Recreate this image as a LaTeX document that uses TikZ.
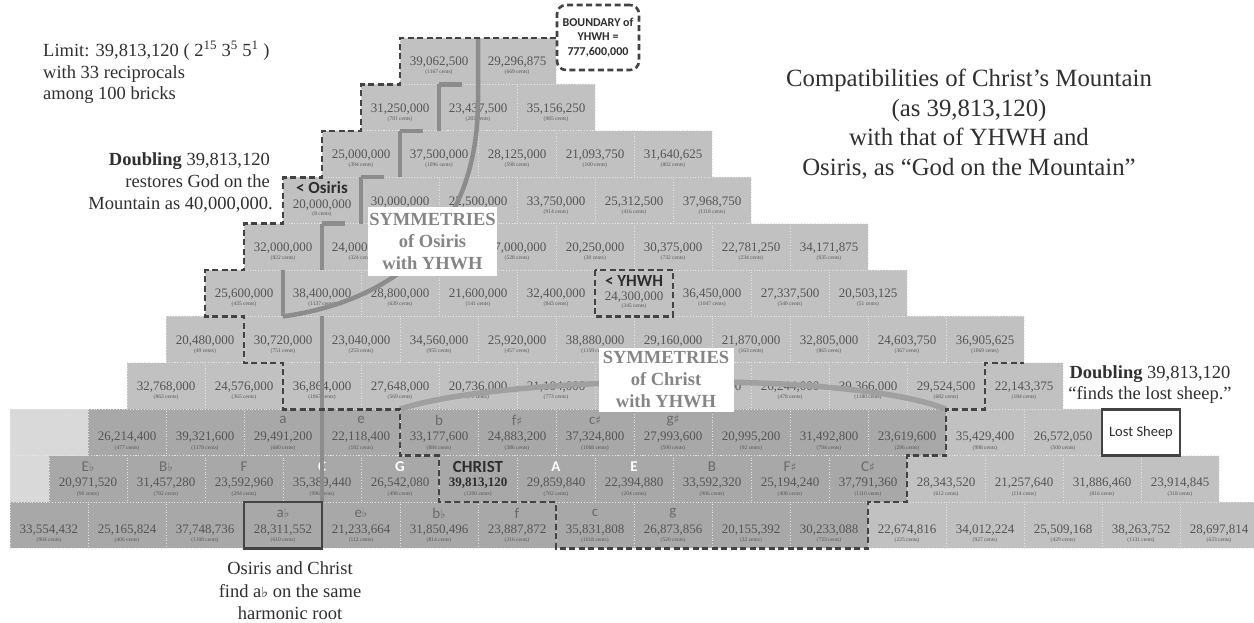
\documentclass[tikz,border=0pt]{standalone}
\usepackage{fontspec}
\setmainfont{Liberation Serif}
\newfontfamily\calib{Carlito}
\newfontfamily\musicsym{DejaVu Sans}[Scale=0.78]
\usetikzlibrary{calc}

\definecolor{brickfill}{HTML}{C1C1C1}
\definecolor{brickdark}{HTML}{A8A8A8}
\definecolor{brickpale}{HTML}{D9D9D9}
\definecolor{brickline}{HTML}{E4E4E4}
\definecolor{numgrey}{HTML}{555555}
\definecolor{notegrey}{HTML}{6A6A6A}
\definecolor{edge}{HTML}{434343}
\definecolor{symgrey}{HTML}{8C8C8C}
\definecolor{symgreylight}{HTML}{A0A0A0}
\definecolor{symtext}{HTML}{858585}
\definecolor{bodytext}{HTML}{303030}
\definecolor{labdark}{HTML}{2E2E2E}

\newcommand\fl{{\musicsym ♭}}
\newcommand\shp{{\musicsym ♯}}

% cents of a brick, measured from 39,813,120 (taken as 1200 cents)
\ExplSyntaxOn
\tl_new:N \l__brick_num_tl
\NewDocumentCommand \centsof { m }
  {
    \tl_set:Nx \l__brick_num_tl {#1}
    \tl_remove_all:Nn \l__brick_num_tl { , }
    \fp_eval:n { round ( 1200 * ln ( \l__brick_num_tl / 19906560 ) / ln ( 2 ) ) }
  }
\ExplSyntaxOff

% bricks whose number or cents lie under a caption box
\newcommand\hidenum[1]{\expandafter\def\csname hidenum#1\endcsname{}}
\newcommand\hidecents[1]{\expandafter\def\csname hidecents#1\endcsname{}}
\hidenum{5-2}\hidecents{5-2}
\hidecents{4-1}\hidecents{4-2}
\hidenum{8-6}\hidecents{8-6}\hidecents{8-7}\hidecents{7-6}

% one brick: row, index in row, number, fill colour
\newcommand\brickat[4]{%
  \pgfmathsetmacro\bx{400-39*(#1-1)+78*#2+39}%
  \pgfmathsetmacro\bt{38+46.4*(#1-1)}%
  \ifnum#1>8\relax \def\ny{28}\def\cy{38.5}\else\def\ny{24.5}\def\cy{34.5}\fi
  \node[brickcell,fill=#4] (b#1-#2) at (\bx,\bt+23.2) {};
  \ifcsname hidenum#1-#2\endcsname\else
    \node[numtxt,bs#1-#2/.try] (n#1-#2) at (\bx,\bt+\ny) {#3};
  \fi
  \ifcsname hidecents#1-#2\endcsname\else
    \node[centtxt,bc#1-#2/.try] (c#1-#2) at (\bx,\bt+\cy) {(\centsof{#3} cents)};
  \fi
}
% a row of bricks; the first #2 bricks are the darker ones
\newcommand\brickrow[3]{%
  \foreach \num [count=\kk from 0] in {#3} {%
    \ifnum\kk<#2\relax \def\bfill{brickdark}\else\def\bfill{brickfill}\fi
    \brickat{#1}{\kk}{\num}{\bfill}%
  }%
}
\newcommand\notelab[4]{%
  \node[notetxt,text=#4] (lab#1-#2) at ($(b#1-#2.north)+(0,11)$) {#3};
}

\begin{document}
\begin{tikzpicture}[x=1pt,y=-1pt,
  brickcell/.style={draw=brickline, dotted, line width=0.8pt, minimum width=78pt,
    minimum height=46.4pt, inner sep=0pt, outer sep=0pt},
  numtxt/.style={font=\fontsize{13}{13}\selectfont, text=numgrey, inner sep=0pt},
  centtxt/.style={font=\fontsize{5.5}{5.5}\selectfont, text=numgrey, inner sep=0pt},
  notetxt/.style={font=\calib\fontsize{15}{15}\selectfont, inner sep=0pt},
  whitenote/.style={font=\calib\bfseries\fontsize{15}{15}\selectfont, inner sep=0pt},
  labtxt/.style={font=\calib\bfseries\fontsize{17}{17}\selectfont, text=labdark, inner sep=0pt},
  bs10-5/.style={font=\bfseries\fontsize{13}{13}\selectfont, text=labdark},
  bs4-0/.style={yshift=-3pt}, bc4-0/.style={yshift=-2pt},
  bs6-5/.style={yshift=-3pt}, bc6-5/.style={yshift=-2pt},
  yhwhline/.style={draw=edge, line width=2.6pt, dash pattern=on 6pt off 3.5pt},
  symline/.style={draw=symgrey, line width=4.5pt},
  christline/.style={draw=symgreylight, line width=5.5pt},
  rootbox/.style={draw=edge, line width=2.4pt},
  textline/.style={font=\fontsize{18.5}{22}\selectfont, text=bodytext, inner sep=0pt},
  titleline/.style={font=\fontsize{24.8}{30}\selectfont, text=bodytext, inner sep=0pt},
  symbox/.style={fill=white, inner sep=0pt, align=center, text=symtext,
    font=\bfseries\fontsize{18.5}{22}\selectfont},
  lostbox/.style={fill=white, draw=edge, line width=2.8pt, minimum width=78pt,
    minimum height=46.4pt, inner sep=0pt, font=\calib\fontsize{14.5}{14.5}\selectfont, text=labdark},
  boundbox/.style={fill=white, yhwhline, rounded corners=9pt, minimum width=82pt,
    minimum height=65pt, inner sep=0pt, align=center, text=labdark,
    font=\calib\bfseries\fontsize{12}{14.5}\selectfont}]
\useasboundingbox (0,0) rectangle (1254,622);
\clip (0,0) rectangle (1254,622);
\fill[white] (0,0) rectangle (1254,622);

% pale filler bricks at the left end of rows 9 and 10
\node[brickcell,fill=brickpale,anchor=north west] (pale9) at (10,409.2) {};
\node[brickcell,fill=brickpale,minimum width=39pt,anchor=north west] (pale10) at (10,455.6) {};

% the mountain of bricks, row by row from the top
\brickrow{1}{0}{{39,062,500},{29,296,875}}
\brickrow{2}{0}{{31,250,000},{23,437,500},{35,156,250}}
\brickrow{3}{0}{{25,000,000},{37,500,000},{28,125,000},{21,093,750},{31,640,625}}
\brickrow{4}{0}{{20,000,000},{30,000,000},{22,500,000},{33,750,000},{25,312,500},{37,968,750}}
\brickrow{5}{0}{{32,000,000},{24,000,000},{36,000,000},{27,000,000},{20,250,000},{30,375,000},{22,781,250},{34,171,875}}
\brickrow{6}{0}{{25,600,000},{38,400,000},{28,800,000},{21,600,000},{32,400,000},{24,300,000},{36,450,000},{27,337,500},{20,503,125}}
\brickrow{7}{0}{{20,480,000},{30,720,000},{23,040,000},{34,560,000},{25,920,000},{38,880,000},{29,160,000},{21,870,000},{32,805,000},{24,603,750},{36,905,625}}
\brickrow{8}{0}{{32,768,000},{24,576,000},{36,864,000},{27,648,000},{20,736,000},{31,104,000},{23,328,000},{34,992,000},{26,244,000},{39,366,000},{29,524,500},{22,143,375}}
\brickrow{9}{11}{{26,214,400},{39,321,600},{29,491,200},{22,118,400},{33,177,600},{24,883,200},{37,324,800},{27,993,600},{20,995,200},{31,492,800},{23,619,600},{35,429,400},{26,572,050}}
\brickrow{10}{11}{{20,971,520},{31,457,280},{23,592,960},{35,389,440},{26,542,080},{39,813,120},{29,859,840},{22,394,880},{33,592,320},{25,194,240},{37,791,360},{28,343,520},{21,257,640},{31,886,460},{23,914,845}}
\brickrow{11}{11}{{33,554,432},{25,165,824},{37,748,736},{28,311,552},{21,233,664},{31,850,496},{23,887,872},{35,831,808},{26,873,856},{20,155,392},{30,233,088},{22,674,816},{34,012,224},{25,509,168},{38,263,752},{28,697,814}}

% note names
\notelab{9}{2}{a}{notegrey}
\notelab{9}{3}{e}{notegrey}
\notelab{9}{4}{b}{notegrey}
\notelab{9}{5}{f\shp}{notegrey}
\notelab{9}{6}{c\shp}{notegrey}
\notelab{9}{7}{g\shp}{notegrey}
\notelab{10}{0}{E\fl}{notegrey}
\notelab{10}{1}{B\fl}{notegrey}
\notelab{10}{2}{F}{notegrey}
\node[whitenote,text=white] (lab10-3) at ($(b10-3.north)+(0,11)$) {C};
\node[whitenote,text=white] (lab10-4) at ($(b10-4.north)+(0,11)$) {G};
\node[whitenote,text=white] (lab10-6) at ($(b10-6.north)+(0,11)$) {A};
\node[whitenote,text=white] (lab10-7) at ($(b10-7.north)+(0,11)$) {E};
\notelab{10}{8}{B}{notegrey}
\notelab{10}{9}{F\shp}{notegrey}
\notelab{10}{10}{C\shp}{notegrey}
\notelab{11}{3}{a\fl}{notegrey}
\notelab{11}{4}{e\fl}{notegrey}
\notelab{11}{5}{b\fl}{notegrey}
\notelab{11}{6}{f}{notegrey}
\notelab{11}{7}{c}{notegrey}
\notelab{11}{8}{g}{notegrey}

% symmetries of Osiris: stepped brackets and the long arc
\foreach \r in {2,...,5} {
  \draw[symline] (b\r-1.north west) -- (b\r-1.south west);
  \draw[symline] (b\r-1.north west) -- ++(23,0);
}
\draw[symline] (b6-1.north west) -- (b6-1.south west);
\draw[symline] (b7-2.north west) -- (b10-3.south);
\draw[symline] (b1-1.north west) -- ++(0,62) .. controls +(0,130) and +(117,-16.4) .. (b6-1.south west);

% symmetries of Christ: the low arch
\draw[christline] (b9-3.north east) .. controls +(100,-34.2) and +(-96,-39.2) .. (b9-10.north east);

% boundary of YHWH
\draw[yhwhline] (b1-1.north east) -- (b1-0.north west) -- (b1-0.south west)
  -- (b2-0.north west) -- (b2-0.south west) -- (b3-0.north west) -- (b3-0.south west)
  -- (b4-0.north west) -- (b4-0.south west) -- (b5-0.north west) -- (b5-0.south west)
  -- (b6-0.north west) -- (b6-0.south west) -- (b7-0.north east) -- (b7-0.south east)
  -- (b8-1.north east) -- (b8-1.south east) -- (b9-3.north east) -- (b9-3.south east)
  -- (b10-4.north east) -- (b10-4.south east) -- (b11-6.north east) -- (b11-6.south east)
  -- (b11-10.south east) -- (b11-10.north east) -- (b10-10.south east) -- (b10-10.north east)
  -- (b9-10.south east) -- (b9-10.north east) -- (b8-10.south east) -- (b8-10.north east)
  -- (b7-10.south east);

% marked bricks
\draw[yhwhline] (b6-5.north west) rectangle (b6-5.south east);
\node[labtxt] (yhwhlab) at ($(b6-5.north)+(0,10.5)$) {< YHWH};
\node[labtxt] (osirislab) at ($(b4-0.north)+(0,10.5)$) {< Osiris};
\node[labtxt] (christlab) at ($(b10-5.north)+(0,11)$) {CHRIST};
\draw[rootbox] (b11-3.north west) rectangle (b11-3.south east);
\node[lostbox] (lost) at (1141,432.4) {Lost Sheep};

% captions over the arcs
\node[symbox,minimum width=129pt,minimum height=69pt] (symosiris) at (432.5,241.5)
  {SYMMETRIES\\of Osiris\\with YHWH};
\node[symbox,minimum width=135pt,minimum height=64pt] (symchrist) at (666,380)
  {SYMMETRIES\\of Christ\\with YHWH};
\node[boundbox] (bound) at (598,37.5) {BOUNDARY of\\YHWH =\\777,600,000};

% notes around the mountain
\node[textline,anchor=base west] (lim1) at (43,56)
  {Limit: 39,813,120 ( 2\textsuperscript{15} 3\textsuperscript{5} 5\textsuperscript{1} )};
\node[textline,anchor=base west] (lim2) at (43,78) {with 33 reciprocals};
\node[textline,anchor=base west] (lim3) at (43,99) {among 100 bricks};

\node[textline,anchor=base east] (dbl1) at (270,165) {\textbf{Doubling} 39,813,120};
\node[textline,anchor=base east] (dbl2) at (270,187) {restores God on the};
\node[textline,anchor=base east] (dbl3) at (273,209) {Mountain as 40,000,000.};

\node[titleline,anchor=base] (ttl1) at (969,86) {Compatibilities of Christ’s Mountain};
\node[titleline,anchor=base] (ttl2) at (969,116) {(as 39,813,120)};
\node[titleline,anchor=base] (ttl3) at (969,145) {with that of YHWH and};
\node[titleline,anchor=base] (ttl4) at (969,175) {Osiris, as “God on the Mountain”};

\node[textline,anchor=base] (sheep1) at (1150,378) {\textbf{Doubling} 39,813,120};
\node[textline,anchor=base] (sheep2) at (1150,399) {“finds the lost sheep.”};

\node[textline,anchor=base] (root1) at (290,574) {Osiris and Christ};
\node[textline,anchor=base] (root2) at (290,597) {find a\fl{} on the same};
\node[textline,anchor=base] (root3) at (290,619) {harmonic root};
\end{tikzpicture}
\end{document}
